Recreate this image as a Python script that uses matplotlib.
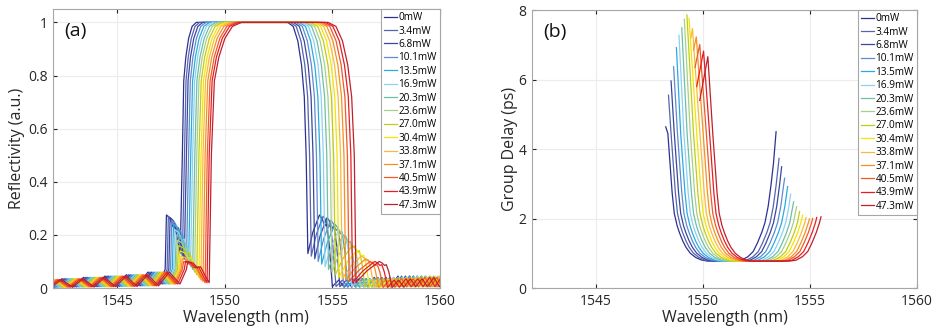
import matplotlib
matplotlib.use("Agg")
import matplotlib.pyplot as plt

plt.rcParams["font.family"] = ["Open Sans", "DejaVu Sans"]

# ---- legend / series ----
powers = ["0mW", "3.4mW", "6.8mW", "10.1mW", "13.5mW", "16.9mW", "20.3mW", "23.6mW",
          "27.0mW", "30.4mW", "33.8mW", "37.1mW", "40.5mW", "43.9mW", "47.3mW"]
line_colors = ["#2e3192", "#5565b0", "#3a479e", "#5f8bd0", "#29abe2", "#8ed0ef", "#6fbfa3",
               "#a6d08a", "#c2cc10", "#f5e400", "#fbb93a", "#f7901e", "#f15a24", "#e81c24",
               "#c1202a"]

# ---- (a) reflectivity, per-curve features ----
refl_left_edge = [1548.02, 1548.12, 1548.21, 1548.31, 1548.41, 1548.50, 1548.60, 1548.69,
                  1548.79, 1548.89, 1548.98, 1549.08, 1549.18, 1549.27, 1549.37]
refl_right_edge = [1553.78, 1553.94, 1554.10, 1554.26, 1554.42, 1554.58, 1554.74, 1554.90,
                   1555.06, 1555.22, 1555.38, 1555.54, 1555.70, 1555.86, 1556.02]
round_left = [0.65, 0.70, 0.76, 0.81, 0.87, 0.92, 0.97, 1.03, 1.08, 1.14, 1.19, 1.24, 1.30,
              1.35, 1.40]
round_right = [0.86, 0.89, 0.91, 0.94, 0.96, 0.99, 1.01, 1.04, 1.06, 1.09, 1.12, 1.14, 1.17,
               1.19, 1.22]
lobe_peak = [0.275, 0.27, 0.265, 0.255, 0.24, 0.22, 0.20, 0.18, 0.16, 0.14, 0.12, 0.11, 0.10,
             0.10, 0.10]
lobe_dip_left = [0.13, 0.12, 0.11, 0.10, 0.09, 0.08, 0.07, 0.06, 0.05, 0.04, 0.03, 0.025,
                 0.02, 0.02, 0.02]
lobe_pos_left = [-0.74, -0.75, -0.76, -0.78, -0.80, -0.83, -0.86, -0.90, -0.94, -0.98,
                 -1.02, -1.06, -1.10, -1.10, -1.10]
lobe_dip_right = [0.13, 0.12, 0.11, 0.10, 0.09, 0.08, 0.07, 0.06, 0.05, 0.04, 0.035, 0.03,
                  0.025, 0.02, 0.02]
lobe_pos_right = [0.62, 0.63, 0.65, 0.67, 0.70, 0.73, 0.77, 0.81, 0.86, 0.91, 0.96, 1.01,
                  1.06, 1.11, 1.16]

# shared shape pieces (offsets in nm, values in a.u.)
shoulder_frac = [0.0, 0.1, 0.25, 0.45, 0.7, 1.0]
shoulder_left_r = [0.5, 0.78, 0.87, 0.94, 0.985, 1.0]
shoulder_right_r = [0.5, 0.72, 0.84, 0.93, 0.985, 1.0]
lobe_frac = [0.25, 0.45, 0.6, 0.8]
lobe_shape = [0.92, 0.70, 0.75, 0.35]
decay_off = [0.12, 0.25, 0.33, 0.45, 0.6]
decay_shape = [0.95, 0.85, 0.88, 0.6, 0.02]
tail_left_off = [-0.3, -0.8, -1.3, -1.8, -2.3, -2.8, -3.3, -3.8, -4.3, -4.8, -5.3, -5.8,
                 -6.3, -6.8, -7.3]
tail_left_r = [0.015, 0.06, 0.008, 0.05, 0.006, 0.045, 0.005, 0.04, 0.004, 0.035, 0.003,
               0.032, 0.003, 0.03, 0.003]
tail_right_off = [0.3, 0.55, 0.85, 1.1, 1.4, 1.65, 1.95, 2.2, 2.5, 2.75, 3.05, 3.3, 3.6,
                  3.85, 4.2, 4.5, 4.8, 5.1, 5.4, 5.7]
tail_right_r = [0.03, 0.003, 0.035, 0.005, 0.035, 0.005, 0.04, 0.005, 0.04, 0.005, 0.045,
                0.005, 0.045, 0.005, 0.04, 0.005, 0.04, 0.005, 0.04, 0.005]

# ---- (b) group delay ----
gd_peak_wl = [1548.25, 1548.38, 1548.50, 1548.62, 1548.75, 1548.87, 1549.00, 1549.12,
              1549.24, 1549.34, 1549.50, 1549.68, 1549.84, 1550.02, 1550.22]
gd_peak = [4.64, 5.55, 5.96, 6.37, 6.92, 7.28, 7.49, 7.74, 7.86, 7.76, 7.47, 7.23, 7.01,
           6.82, 6.66]
gd_start_wl = [1548.25, 1548.38, 1548.50, 1548.62, 1548.75, 1548.87, 1549.00, 1549.12,
               1549.24, 1549.34, 1549.43, 1549.55, 1549.62, 1549.70, 1549.84]
gd_start = [4.64, 5.55, 5.96, 6.37, 6.92, 7.28, 7.49, 7.74, 7.86, 7.76, 7.2, 6.85, 6.35,
            5.8, 5.4]
gd_fall_wl = [1548.90, 1549.05, 1549.20, 1549.35, 1549.50, 1549.65, 1549.80, 1549.95,
              1550.10, 1550.25, 1550.40, 1550.55, 1550.70, 1550.85, 1551.00]
gd_rise_wl = [1552.09, 1552.33, 1552.49, 1552.68, 1552.87, 1553.06, 1553.25, 1553.42,
              1553.61, 1553.77, 1553.95, 1554.12, 1554.27, 1554.45, 1554.64]
gd_end_wl = [1553.41, 1553.55, 1553.67, 1553.81, 1553.95, 1554.09, 1554.23, 1554.37,
             1554.51, 1554.65, 1554.81, 1554.97, 1555.12, 1555.31, 1555.51]
gd_end = [4.50, 3.73, 3.49, 3.16, 2.92, 2.70, 2.48, 2.34, 2.20, 2.10, 2.03, 1.99, 2.00,
          2.03, 2.05]
fall_off = [-0.55, -0.45, -0.35, -0.25, -0.12, 0.0, 0.15, 0.3, 0.5, 0.75, 1.0, 1.3]
fall_gd = [4.45, 3.6, 2.75, 2.15, 1.8, 1.58, 1.35, 1.17, 1.0, 0.88, 0.81, 0.775]
rise_off = [-0.6, -0.3, 0.0, 0.25, 0.45, 0.65, 0.8, 0.95, 1.08, 1.2, 1.32]
rise_gd = [0.775, 0.8, 0.9, 1.05, 1.3, 1.6, 1.88, 2.35, 2.95, 3.6, 4.5]


def reflectivity_curve(i):
    eL, eR = refl_left_edge[i], refl_right_edge[i]
    pk = lobe_peak[i]
    wl, r = [], []
    base = eL + lobe_pos_left[i] - 0.06
    for off, v in sorted(zip(tail_left_off, tail_left_r)):
        wl.append(base + off)
        r.append(v)
    wl += [base, eL + lobe_pos_left[i]]
    r += [0.07, pk]
    dL = lobe_dip_left[i]
    span = (eL - 0.1) - (eL + lobe_pos_left[i])
    for f, g in zip(lobe_frac, lobe_shape):
        wl.append(eL + lobe_pos_left[i] + f * span)
        r.append(dL + (pk - dL) * g)
    wl.append(eL - 0.1)
    r.append(dL)
    for f, v in zip(shoulder_frac, shoulder_left_r):
        wl.append(eL + f * round_left[i])
        r.append(v)
    for f, v in reversed(list(zip(shoulder_frac, shoulder_right_r))):
        wl.append(eR - f * round_right[i])
        r.append(v)
    dR = lobe_dip_right[i]
    pos = lobe_pos_right[i]
    wl += [eR + 0.08, eR + 0.5 * pos, eR + pos]
    r += [dR, dR + 0.55 * (pk - dR), pk]
    for off, g in zip(decay_off, decay_shape):
        wl.append(eR + pos + off)
        r.append(pk * g)
    end = eR + pos + decay_off[-1]
    for off, v in zip(tail_right_off, tail_right_r):
        wl.append(end + off)
        r.append(v)
    return wl, r


def delay_curve(i):
    wl, gd = [], []
    if gd_start_wl[i] < gd_peak_wl[i]:
        wl.append(gd_start_wl[i])
        gd.append(gd_start[i])
    wl.append(gd_peak_wl[i])
    gd.append(gd_peak[i])
    a = gd_fall_wl[i]
    for off, v in zip(fall_off, fall_gd):
        if a + off > gd_peak_wl[i] + 0.1:
            wl.append(a + off)
            gd.append(v)
    r0 = gd_rise_wl[i]
    for off, v in zip(rise_off, rise_gd):
        if r0 + off < gd_end_wl[i] - 0.03:
            wl.append(r0 + off)
            gd.append(v)
    wl.append(gd_end_wl[i])
    gd.append(gd_end[i])
    return wl, gd


fig = plt.figure(figsize=(9.39, 3.34), dpi=100)
ax1 = fig.add_axes([0.0564, 0.1377, 0.412, 0.835])
ax2 = fig.add_axes([0.5666, 0.1377, 0.41, 0.832])

for i in range(len(powers)):
    x, y = reflectivity_curve(i)
    ax1.plot(x, y, color=line_colors[i], lw=0.9, label=powers[i])
    x, y = delay_curve(i)
    ax2.plot(x, y, color=line_colors[i], lw=0.9, label=powers[i])

ax1.set_ylim(0, 1.05)
ax1.set_yticks([0, 0.2, 0.4, 0.6, 0.8, 1])
ax1.set_yticklabels(["0", "0.2", "0.4", "0.6", "0.8", "1"])
ax1.set_ylabel("Reflectivity (a.u.)", fontsize=11.5, color="#262626", labelpad=2)
ax1.text(0.03, 0.955, "(a)", transform=ax1.transAxes, fontsize=14, va="top", color="#111111")

ax2.set_ylim(0, 8)
ax2.set_yticks([0, 2, 4, 6, 8])
ax2.set_ylabel("Group Delay (ps)", fontsize=11.5, color="#262626", labelpad=0)
ax2.text(0.03, 0.955, "(b)", transform=ax2.transAxes, fontsize=14, va="top", color="#111111")

for ax in (ax1, ax2):
    ax.set_xlim(1542, 1560)
    ax.set_xticks([1545, 1550, 1555, 1560])
    ax.set_xlabel("Wavelength (nm)", fontsize=11.5, color="#262626", labelpad=1)
    ax.grid(True, color="#ececec", lw=0.8)
    ax.set_axisbelow(True)
    ax.tick_params(direction="in", length=3, labelsize=10, colors="#262626", pad=4,
                   top=True, right=True)
    for s in ax.spines.values():
        s.set_color("#a6a6a6")
        s.set_linewidth(0.8)
    leg = ax.legend(loc="upper right", fontsize=7.2, labelspacing=0.24, handlelength=1.3,
                    handletextpad=0.15, borderpad=0.3, borderaxespad=0.0, fancybox=False,
                    framealpha=1.0, edgecolor="#a6a6a6")
    leg.get_frame().set_linewidth(0.8)

fig.savefig("out.png", dpi=100)
